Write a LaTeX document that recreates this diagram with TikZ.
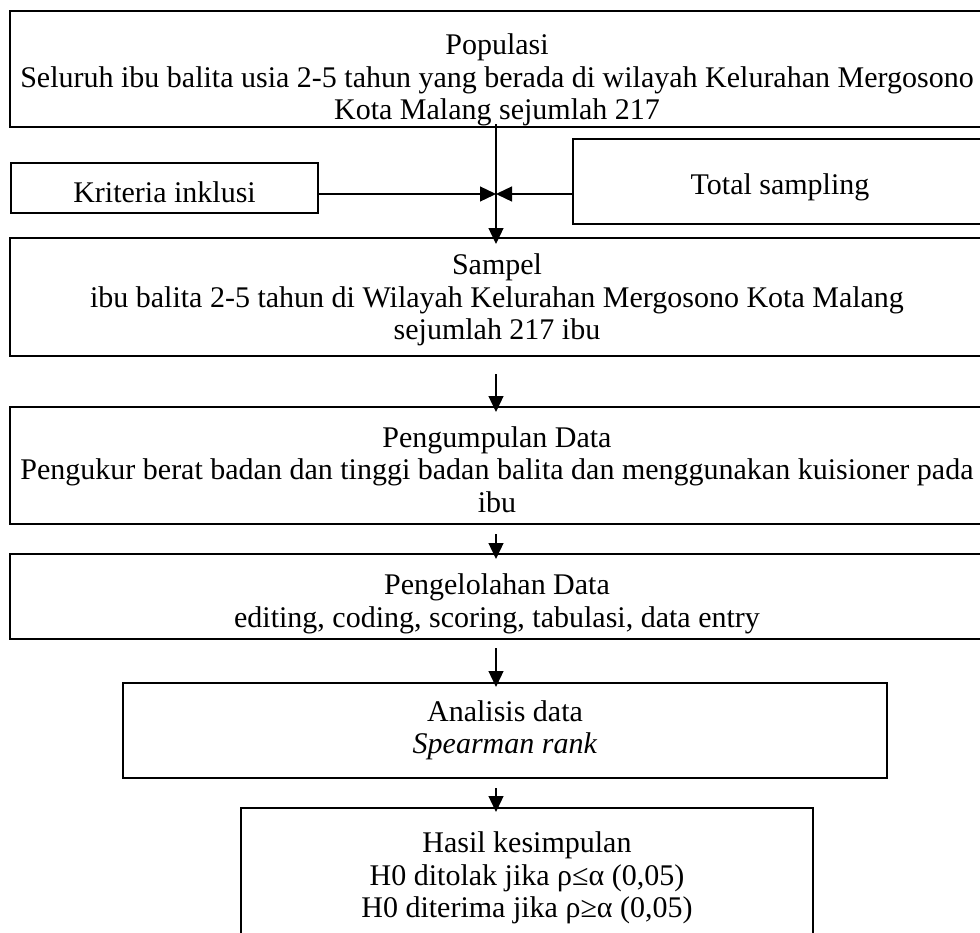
\documentclass[tikz,border=0pt]{standalone}
\usepackage{fontspec}
\setmainfont{Liberation Serif}
\usetikzlibrary{arrows.meta, calc}

\begin{document}
\begin{tikzpicture}[x=1pt, y=-1pt,
  font=\fontsize{30}{32.5}\selectfont,
  box/.style={draw, line width=2pt, inner sep=0pt, align=center},
  arr/.style={line width=1.3pt, -{Triangle[length=16pt,width=15pt]}}]
\useasboundingbox (0,0) rectangle (980,932);
\clip (0,0) rectangle (980,932);
% boxes
\node (pop) at (497,69) [box, minimum width=974pt, minimum height=116pt]
  {\rule{0pt}{43pt}Populasi\\Seluruh ibu balita usia 2-5 tahun yang berada di wilayah Kelurahan Mergosono\\Kota Malang sejumlah 217};
\node (krit) at (164.5,188) [box, minimum width=307pt, minimum height=50pt] {\rule{0pt}{29pt}Kriteria inklusi};
\node (tot) at (780,181.5) [box, minimum width=414pt, minimum height=85pt] {\rule{0pt}{33pt}Total sampling};
\node (sam) at (497,297) [box, minimum width=974pt, minimum height=118pt]
  {\rule{0pt}{27pt}Sampel\\ibu balita 2-5 tahun di Wilayah Kelurahan Mergosono Kota Malang\\sejumlah 217 ibu};
\node (pgm) at (497,465.5) [box, minimum width=974pt, minimum height=117pt]
  {\rule{0pt}{29pt}Pengumpulan Data\\Pengukur berat badan dan tinggi badan balita dan menggunakan kuisioner pada\\ibu};
\node (pgl) at (497,596.5) [box, minimum width=974pt, minimum height=85pt]
  {\rule{0pt}{35pt}Pengelolahan Data\\editing, coding, scoring, tabulasi, data entry};
\node (ana) at (505,730.5) [box, minimum width=764pt, minimum height=95pt]
  {Analisis data\\\textit{Spearman rank}};
\node (has) at (527,874) [box, minimum width=572pt, minimum height=132pt]
  {\rule{0pt}{29pt}Hasil kesimpulan\\H0 ditolak jika ρ≤α (0,05)\\H0 diterima jika ρ≥α (0,05)};
% connectors
\coordinate (mid) at (496,194);
\draw[arr, shorten <=-4pt, shorten >=-7pt] (pop.south -| mid) -- (sam.north -| mid);
\draw[arr] (krit.east |- mid) -- (mid);
\draw[arr] (tot.west |- mid) -- (mid);
\draw[arr, shorten <=17pt, shorten >=-6pt] (sam.south -| mid) -- (pgm.north -| mid);
\draw[arr, shorten <=9pt, shorten >=-6pt] (pgm.south -| mid) -- (pgl.north -| mid);
\draw[arr, shorten <=8pt, shorten >=-5pt] (pgl.south -| mid) -- (ana.north -| mid);
\draw[arr, shorten <=9pt, shorten >=-5pt] (ana.south -| mid) -- (has.north -| mid);
\end{tikzpicture}
\end{document}
